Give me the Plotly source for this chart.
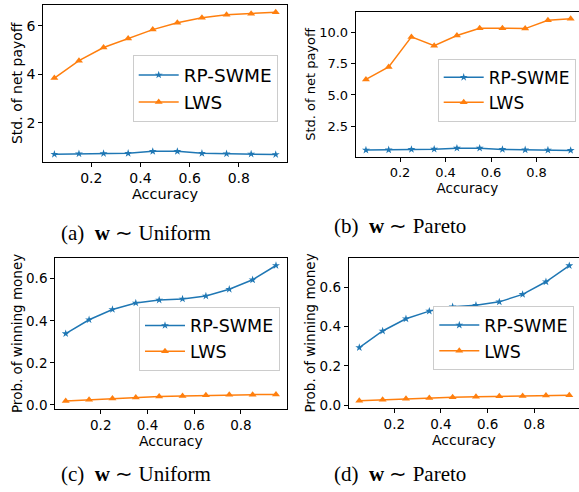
import plotly.graph_objects as go

accuracy = [0.05, 0.15, 0.25, 0.35, 0.45, 0.55, 0.65, 0.75, 0.85, 0.95]

# (a) std of net payoff, w ~ Uniform
std_uniform_rp = [0.70, 0.72, 0.73, 0.74, 0.82, 0.82, 0.74, 0.72, 0.71, 0.69]
std_uniform_lws = [3.84, 4.56, 5.10, 5.47, 5.84, 6.12, 6.33, 6.45, 6.49, 6.56]
# (b) std of net payoff, w ~ Pareto
std_pareto_rp = [0.61, 0.63, 0.66, 0.68, 0.76, 0.76, 0.66, 0.63, 0.61, 0.58]
std_pareto_lws = [6.24, 7.24, 9.63, 8.92, 9.74, 10.32, 10.32, 10.29, 10.95, 11.08]
# (c) prob. of winning money, w ~ Uniform
prob_uniform_rp = [0.339, 0.405, 0.454, 0.485, 0.499, 0.504, 0.518, 0.550, 0.595, 0.663]
prob_uniform_lws = [0.019, 0.025, 0.030, 0.035, 0.040, 0.043, 0.046, 0.048, 0.049, 0.050]
# (d) prob. of winning money, w ~ Pareto
prob_pareto_rp = [0.293, 0.377, 0.439, 0.478, 0.500, 0.508, 0.525, 0.563, 0.627, 0.709]
prob_pareto_lws = [0.023, 0.028, 0.033, 0.037, 0.040, 0.043, 0.045, 0.047, 0.049, 0.050]

series_names = ["RP-SWME", "LWS"]
x_ticks = [0.2, 0.4, 0.6, 0.8]
captions = ["(a)&nbsp;&nbsp;<b>w</b> ∼ Uniform", "(b)&nbsp;&nbsp;<b>w</b> ∼ Pareto",
            "(c)&nbsp;&nbsp;<b>w</b> ∼ Uniform", "(d)&nbsp;&nbsp;<b>w</b> ∼ Pareto"]

BLUE = "#1f77b4"
ORANGE = "#ff7f0e"
W, H = 579, 492
FONT = "DejaVu Sans"

panels = [
    dict(rp=std_uniform_rp, lws=std_uniform_lws, ytitle="Std. of net payoff",
         box=(43.3, 286.8, 5.0, 163.3), xr=[0.005, 0.995], yr=[0.395, 6.857],
         yticks=[2, 4, 6], ytext=["2", "4", "6"], mirror_y=True,
         fs=14, lfs=18.5, leg=(132.7, 56.0), cap=(135.5, 235)),
    dict(rp=std_pareto_rp, lws=std_pareto_lws, ytitle="Std. of net payoff",
         box=(355.7, 579, 12.3, 158.3), xr=[0.005, 0.9866], yr=[0.08, 11.6],
         yticks=[2.5, 5.0, 7.5, 10.0], ytext=["2.5", "5.0", "7.5", "10.0"], mirror_y=False,
         fs=13, lfs=17, leg=(437.7, 59.3), cap=(400, 228)),
    dict(rp=prob_uniform_rp, lws=prob_uniform_lws, ytitle="Prob. of winning money",
         box=(55.2, 286.5, 261.0, 412.7), xr=[0.005, 0.995], yr=[-0.017, 0.697],
         yticks=[0.0, 0.2, 0.4, 0.6], ytext=["0.0", "0.2", "0.4", "0.6"], mirror_y=True,
         fs=13.5, lfs=17.5, leg=(139.0, 309.7), cap=(135.5, 479)),
    dict(rp=prob_pareto_rp, lws=prob_pareto_lws, ytitle="Prob. of winning money",
         box=(348.8, 579, 261.0, 411.7), xr=[0.005, 0.9916], yr=[-0.0117, 0.746],
         yticks=[0.0, 0.2, 0.4, 0.6], ytext=["0.0", "0.2", "0.4", "0.6"], mirror_y=False,
         fs=13.5, lfs=17.5, leg=(433.3, 309.3), cap=(400, 479)),
]

fig = go.Figure()
layout = {}
annotations = []
for i, p in enumerate(panels, start=1):
    sfx = "" if i == 1 else str(i)
    legname = "legend" if i == 1 else f"legend{i}"
    xa = f"x{sfx}"
    ya = f"y{sfx}"
    fig.add_trace(go.Scatter(
        x=accuracy, y=p["rp"], name=series_names[0], mode="lines+markers",
        line=dict(color=BLUE, width=1.5), marker=dict(symbol="star", size=6, color=BLUE),
        xaxis=xa, yaxis=ya, legend=legname))
    fig.add_trace(go.Scatter(
        x=accuracy, y=p["lws"], name=series_names[1], mode="lines+markers",
        line=dict(color=ORANGE, width=1.5), marker=dict(symbol="triangle-up", size=7, color=ORANGE),
        xaxis=xa, yaxis=ya, legend=legname))
    x0, x1, y0, y1 = p["box"]
    layout[f"xaxis{sfx}"] = dict(
        domain=[x0 / W, min(x1 / W, 1.0)], range=p["xr"], anchor=ya,
        tickvals=x_ticks, ticktext=[f"{v:.1f}" for v in x_ticks],
        ticks="outside", ticklen=4, tickcolor="black", showline=True, linecolor="black",
        linewidth=1, mirror=True, showgrid=False, zeroline=False,
        tickfont=dict(family=FONT, size=p["fs"], color="black"),
        title=dict(text="Accuracy", standoff=2, font=dict(family=FONT, size=p["fs"] + 0.5, color="black")))
    layout[f"yaxis{sfx}"] = dict(
        domain=[1 - y1 / H, 1 - y0 / H], range=p["yr"], anchor=xa,
        tickvals=p["yticks"], ticktext=p["ytext"],
        ticks="outside", ticklen=4, tickcolor="black", showline=True, linecolor="black",
        linewidth=1, mirror=p["mirror_y"], showgrid=False, zeroline=False,
        tickfont=dict(family=FONT, size=p["fs"], color="black"),
        title=dict(text=p["ytitle"], standoff=0, font=dict(family=FONT, size=p["fs"], color="black")))
    layout[legname] = dict(
        x=p["leg"][0] / W, y=1 - p["leg"][1] / H, xanchor="left", yanchor="top",
        bgcolor="white", bordercolor="#cccccc", borderwidth=1, itemwidth=40,
        font=dict(family=FONT, size=p["lfs"], color="black"))
    annotations.append(dict(
        text=captions[i - 1], x=p["cap"][0] / W, y=1 - p["cap"][1] / H, xref="paper", yref="paper",
        xanchor="center", yanchor="middle", showarrow=False,
        font=dict(family="Liberation Serif", size=21, color="black")))

fig.update_layout(
    width=W, height=H, margin=dict(l=0, r=0, t=0, b=0),
    plot_bgcolor="white", paper_bgcolor="white", showlegend=True,
    annotations=annotations, **layout)

fig.write_html("out.html")
